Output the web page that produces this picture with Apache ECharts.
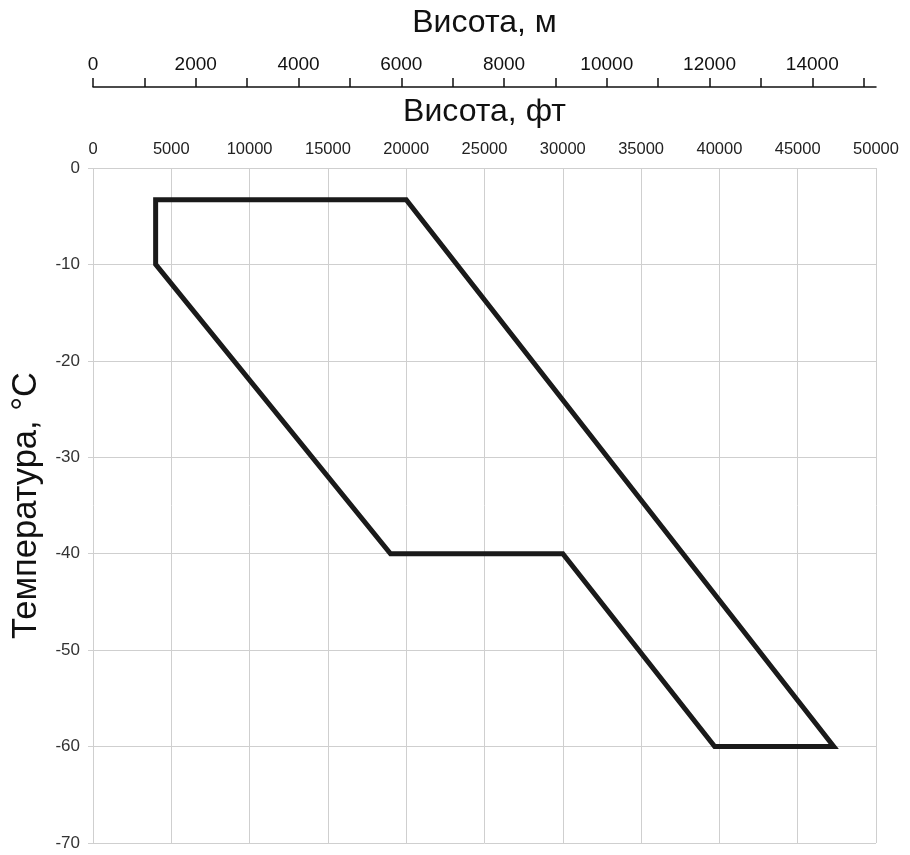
<!DOCTYPE html>
<html>
<head>
<meta charset="utf-8">
<script src="https://cdn.jsdelivr.net/npm/echarts@6/dist/echarts.min.js"></script>
<style>html,body{margin:0;padding:0;background:#fff}#c{width:910px;height:855px}</style>
</head>
<body>
<div id="c"></div>
<script>
// Envelope outline (feet, °C); the first vertex is repeated at the end (and the second once more) to close the loop
const altitudeFt = [4000, 4000, 19000, 30000, 39700, 47300, 20000, 4000, 4000];
const temperatureC = [-3.3, -10, -40, -40, -60, -60, -3.3, -3.3, -10];
const meterTicks = [0,1000,2000,3000,4000,5000,6000,7000,8000,9000,10000,11000,12000,13000,14000,15000];
const meterLabels = [0,2000,4000,6000,8000,10000,12000,14000];
const feetMax = 50000;
const meterMax = feetMax / 3.28084;

const chart = echarts.init(document.getElementById('c'));
const font = 'Liberation Sans, Arial, sans-serif';
const plain = v => String(v);
chart.setOption({
  animation: false,
  backgroundColor: '#fff',
  grid: {left: 93, right: 34, top: 168, bottom: 12},
  xAxis: [
    {
      type: 'value', position: 'top', min: 0, max: feetMax, interval: 5000,
      name: 'Висота, фт', nameLocation: 'middle', nameGap: 40,
      nameTextStyle: {fontFamily: font, fontSize: 32, color: '#111'},
      axisLine: {show: false}, axisTick: {show: false},
      axisLabel: {fontFamily: font, fontSize: 16.5, color: '#222', margin: 10, formatter: plain},
      splitLine: {show: true, lineStyle: {color: '#cfcfcf', width: 1}}
    },
    {
      type: 'value', position: 'top', offset: 81, min: 0, max: meterMax,
      name: 'Висота, м', nameLocation: 'middle', nameGap: 48,
      nameTextStyle: {fontFamily: font, fontSize: 32, color: '#111'},
      axisLine: {show: true, lineStyle: {color: '#111', width: 1.5}},
      axisTick: {show: true, customValues: meterTicks, length: 9, lineStyle: {color: '#111', width: 1.5}},
      axisLabel: {customValues: meterLabels, fontFamily: font, fontSize: 19, color: '#111', margin: 13, formatter: plain},
      splitLine: {show: false}
    }
  ],
  yAxis: {
    type: 'value', min: -70, max: 0, interval: 10,
    name: 'Температура, °C', nameLocation: 'middle', nameGap: 49,
    nameTextStyle: {fontFamily: font, fontSize: 34.5, color: '#111'},
    axisLine: {show: false},
    axisTick: {show: true, length: 5, lineStyle: {color: '#cfcfcf'}},
    axisLabel: {fontFamily: font, fontSize: 17, color: '#333', margin: 13, formatter: plain},
    splitLine: {show: true, lineStyle: {color: '#cfcfcf', width: 1}}
  },
  series: [{
    type: 'line', xAxisIndex: 0,
    data: altitudeFt.map((x, i) => [x, temperatureC[i]]),
    showSymbol: false, symbol: 'none',
    lineStyle: {color: '#1a1a1a', width: 5, join: 'miter', cap: 'butt'}
  }]
});
</script>
</body>
</html>
